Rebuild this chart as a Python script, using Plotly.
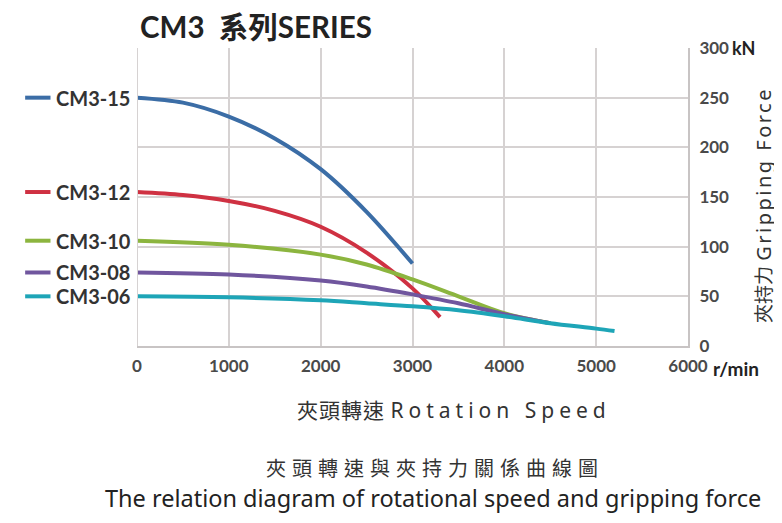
import plotly.graph_objects as go

# ---- data ----
speed_15 = [0, 500, 1000, 1500, 2000, 2500, 3000]
force_15 = [250, 245, 231, 209, 178, 135, 83]

speed_12 = [0, 500, 1000, 1500, 2000, 2500, 3000, 3300]
force_12 = [155, 152, 146, 136, 120, 94, 58, 29]

speed_10 = [0, 1000, 2000, 2500, 3000, 3500, 4000, 4500]
force_10 = [106, 102, 92, 82, 67, 50, 33, 23]

speed_08 = [0, 1000, 2000, 2500, 3000, 3500, 4000, 4500]
force_08 = [74, 72, 66, 60, 52, 43, 32, 23]

speed_06 = [0, 1000, 2000, 2500, 3000, 3500, 4000, 4500, 5000, 5200]
force_06 = [50, 49, 46, 43, 40, 36, 30, 23, 17.5, 15]

series_names = ["CM3-15", "CM3-12", "CM3-10", "CM3-08", "CM3-06"]
series_colors = ["#3b6da6", "#cf3142", "#8cb53f", "#70569e", "#1ea5b7"]

x_tickvals = [0, 1000, 2000, 3000, 4000, 5000, 6000]
x_ticktext = ["0", "1000", "2000", "3000", "4000", "5000", "6000"]
y_tickvals = [0, 50, 100, 150, 200, 250, 300]
y_ticktext = ["0", "50", "100", "150", "200", "250", "300"]

FONT = "Lato, 'Noto Sans CJK TC', sans-serif"
CJK = "'Noto Sans', 'Noto Sans CJK TC', sans-serif"

fig = go.Figure()
all_series = [(speed_15, force_15), (speed_12, force_12), (speed_10, force_10),
              (speed_08, force_08), (speed_06, force_06)]
for (xs, ys), name, col in zip(all_series, series_names, series_colors):
    fig.add_trace(go.Scatter(x=xs, y=ys, mode="lines", name=name,
                             line=dict(color=col, width=4, shape="spline", smoothing=0.9),
                             showlegend=False))
    # left-side label with short line sample
    fig.add_shape(type="line", xref="paper", yref="y",
                  x0=-0.203, x1=-0.157, y0=ys[0], y1=ys[0],
                  line=dict(color=col, width=4))
    fig.add_annotation(xref="paper", yref="y", x=-0.151, y=ys[0], text=name,
                       showarrow=False, xanchor="left", yanchor="middle",
                       font=dict(family=FONT, size=20, color="#333", weight="bold"))

fig.update_layout(
    width=774, height=515,
    margin=dict(l=129, r=94, t=40, b=177),
    paper_bgcolor="white", plot_bgcolor="white",
    showlegend=False,
    xaxis=dict(range=[0, 6000], tickvals=x_tickvals, ticktext=x_ticktext,
               showgrid=True, gridcolor="#d6d2d2", gridwidth=2,
               showline=True, linecolor="#c8c4c4", linewidth=2,
               zeroline=False, ticks="", ticklabelstandoff=4,
               tickfont=dict(family=FONT, size=17, color="#4a4a4a", weight="bold")),
    yaxis=dict(range=[0, 300], tickvals=y_tickvals, ticktext=y_ticktext,
               side="right", showgrid=True, gridcolor="#d6d2d2", gridwidth=2,
               showline=True, linecolor="#c8c4c4", linewidth=2, mirror=False,
               zeroline=False, ticks="", ticklabelstandoff=6,
               tickfont=dict(family=FONT, size=17, color="#4a4a4a", weight="bold")),
)
fig.add_vline(x=0, line=dict(color="#d6d2d2", width=2))

# title
fig.add_annotation(xref="paper", yref="paper", x=0.002, y=1.0, yshift=22,
                   text="CM3&nbsp; 系列SERIES", showarrow=False, xanchor="left", yanchor="middle",
                   font=dict(family=FONT, size=29.5, color="#222", weight="bold"))
# units
fig.add_annotation(xref="paper", yref="y", x=1.0, xshift=42, y=300,
                   text="kN", showarrow=False, xanchor="left", yanchor="middle",
                   font=dict(family=FONT, size=18, color="#222", weight="bold"))
fig.add_annotation(xref="paper", yref="paper", x=1.0, xshift=23, y=0, yshift=-22,
                   text="r/min", showarrow=False, xanchor="left", yanchor="middle",
                   font=dict(family=FONT, size=19, color="#222", weight="bold"))
# right axis title
fig.add_annotation(xref="paper", yref="paper", x=1.0, xshift=75, y=0.473,
                   text="<span style='font-size:19px'>夾持力</span> "
                        "<span style='letter-spacing:2.5px'>Gripping Force</span>",
                   showarrow=False, textangle=-90,
                   xanchor="center", yanchor="middle",
                   font=dict(family=CJK, size=20, color="#333"))
# x axis title
fig.add_annotation(xref="paper", yref="paper", x=0.576, y=0, yshift=-64,
                   text="<span style='letter-spacing:1px'>夾頭轉速</span> "
                        "<span style='letter-spacing:5px'>Rotation Speed</span>",
                   showarrow=False, xanchor="center", yanchor="middle",
                   font=dict(family=CJK, size=21, color="#333"))
# captions
fig.add_annotation(xref="paper", yref="paper", x=0.54, y=0, yshift=-122,
                   text="<span style='letter-spacing:6px'>夾頭轉速與夾持力關係曲線圖</span>",
                   showarrow=False, xanchor="center", yanchor="middle",
                   font=dict(family=CJK, size=20, color="#333"))
fig.add_annotation(xref="paper", yref="paper", x=0.537, y=0, yshift=-152,
                   text="The relation diagram of rotational speed and gripping force", showarrow=False,
                   xanchor="center", yanchor="middle",
                   font=dict(family="'Noto Sans', sans-serif", size=23.5, color="#222"))

fig.write_html("out.html")
